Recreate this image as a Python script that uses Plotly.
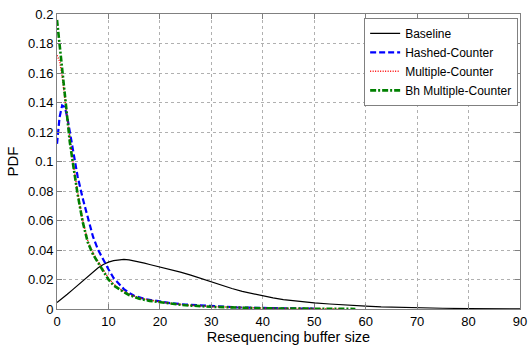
import plotly.graph_objects as go

# Baseline
base_x = [0, 1, 2, 3, 4, 5, 6, 7, 8, 9, 10, 11, 12, 13, 14, 15, 16, 17, 18, 19, 20, 22, 24, 26, 28, 30,
          32, 34, 36, 38, 40, 42, 44, 46, 48, 50, 53, 56, 60, 63, 66, 70, 75, 80, 85, 90]
base_y = [0.0044, 0.007, 0.010, 0.013, 0.016, 0.019, 0.022, 0.025, 0.028, 0.0302, 0.0318, 0.0328, 0.0334,
          0.0336, 0.0333, 0.0327, 0.0319, 0.0311, 0.0302, 0.0294, 0.0286, 0.0271, 0.0250, 0.0230, 0.0206,
          0.0186, 0.0163, 0.0139, 0.0119, 0.0103, 0.0088, 0.0075, 0.0064, 0.0055, 0.0048, 0.0042, 0.0034,
          0.0026, 0.0019, 0.0014, 0.0011, 0.0007, 0.0005, 0.0003, 0.0002, 0.0001]

# Hashed-Counter
hash_x = [0, 0.5, 1, 1.5, 2, 2.5, 3, 3.5, 4, 5, 6, 7, 8, 9, 10, 11, 12, 13, 14, 15, 17, 20, 22, 25, 30,
          35, 40, 45, 50]
hash_y = [0.112, 0.130, 0.138, 0.137, 0.130, 0.120, 0.110, 0.100, 0.090, 0.075, 0.061, 0.049, 0.040,
          0.033, 0.027, 0.021, 0.017, 0.0135, 0.011, 0.009, 0.0068, 0.005, 0.004, 0.003, 0.0018, 0.0011,
          0.0007, 0.0004, 0.0002]

# Multiple-Counter
mult_x = [0, 0.5, 1, 1.5, 2, 2.5, 3, 4, 5, 6, 7, 8, 9, 10, 11, 12, 13, 14, 16, 18, 20, 22, 25, 30, 35,
          40, 45, 50, 55]
mult_y = [0.172, 0.168, 0.158, 0.144, 0.128, 0.114, 0.102, 0.079, 0.060, 0.046, 0.038, 0.032, 0.026,
          0.021, 0.017, 0.014, 0.012, 0.010, 0.0075, 0.006, 0.0048, 0.0038, 0.0027, 0.0016, 0.001, 0.0006,
          0.0004, 0.0002, 0.0001]

# Bh Multiple-Counter
bh_x = [0, 0.5, 1, 1.5, 2, 2.5, 3, 4, 5, 6, 7, 8, 9, 10, 11, 12, 13, 14, 16, 18, 20, 22, 25, 30, 35,
        40, 45, 50, 55, 58]
bh_y = [0.196, 0.180, 0.163, 0.145, 0.128, 0.113, 0.101, 0.078, 0.059, 0.045, 0.037, 0.031, 0.025,
        0.020, 0.016, 0.0135, 0.0115, 0.0095, 0.007, 0.0055, 0.0045, 0.0035, 0.0025, 0.0015, 0.0009,
        0.0005, 0.0003, 0.0002, 0.0001, 0.00005]

x_ticks = [0, 10, 20, 30, 40, 50, 60, 70, 80, 90]
y_ticks = [0, 0.02, 0.04, 0.06, 0.08, 0.1, 0.12, 0.14, 0.16, 0.18, 0.2]
y_tick_text = ["0", "0.02", "0.04", "0.06", "0.08", "0.1", "0.12", "0.14", "0.16", "0.18", "0.2"]

FONT = "Liberation Sans, Arial, sans-serif"

fig = go.Figure()
fig.add_trace(go.Scatter(x=base_x, y=base_y, mode="lines", name="Baseline",
                         line=dict(color="black", width=1.2, dash="solid")))
fig.add_trace(go.Scatter(x=hash_x, y=hash_y, mode="lines", name="Hashed-Counter",
                         line=dict(color="#0000ff", width=2.2, dash="6px,3px")))
fig.add_trace(go.Scatter(x=mult_x, y=mult_y, mode="lines", name="Multiple-Counter",
                         line=dict(color="#ff0000", width=1.5, dash="1px,1.5px")))
fig.add_trace(go.Scatter(x=bh_x, y=bh_y, mode="lines", name="Bh Multiple-Counter",
                         line=dict(color="#008000", width=2.6, dash="6px,2px,2px,2px")))

axis_common = dict(
    showline=True, linecolor="#808080", linewidth=1, mirror="ticks",
    ticks="inside", ticklen=5, tickcolor="#808080",
    showgrid=True, gridcolor="#b0b0b0", griddash="dot", gridwidth=1,
    zeroline=False, automargin=False,
    tickfont=dict(family=FONT, size=13, color="black"),
)

fig.update_xaxes(range=[0, 90], tickvals=x_ticks,
                 title=dict(text="Resequencing buffer size", standoff=2,
                            font=dict(family=FONT, size=14.5, color="black")),
                 **axis_common)
fig.update_yaxes(range=[0, 0.2], tickvals=y_ticks, ticktext=y_tick_text,
                 title=dict(text="PDF", standoff=5,
                            font=dict(family=FONT, size=15, color="black")),
                 **axis_common)

fig.update_layout(
    width=529, height=345,
    margin=dict(l=57, r=9, t=14, b=36),
    paper_bgcolor="white", plot_bgcolor="white",
    showlegend=True,
    legend=dict(x=0.996, y=0.987, xanchor="right", yanchor="top",
                bgcolor="white", bordercolor="#808080", borderwidth=1,
                font=dict(family=FONT, size=12, color="black"),
                tracegroupgap=0, itemwidth=30),
)

fig.write_html("out.html")
